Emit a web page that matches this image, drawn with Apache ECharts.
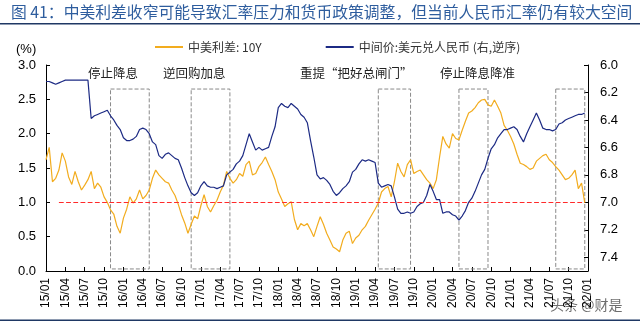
<!DOCTYPE html>
<html><head><meta charset="utf-8">
<script src="https://cdn.jsdelivr.net/npm/echarts@6/dist/echarts.min.js"></script>
<style>html,body{margin:0;padding:0;background:#fff}#c{width:640px;height:323px}</style>
</head><body><div id="c"></div>
<script>
// Half-month samples from 2015/01 (first half) to 2021/12 (second half)
var spread10Y = [
1.62,1.80,1.30,1.35,1.47,1.72,1.60,1.37,1.26,1.45,1.30,1.18,1.25,1.33,1.45,1.20,1.28,1.22,1.08,1.00,
0.89,0.83,0.65,0.55,0.77,0.90,1.08,0.99,1.05,1.18,1.05,1.10,1.18,1.35,1.47,1.40,1.35,1.30,1.28,1.18,
1.10,0.97,0.82,0.70,0.55,0.68,0.80,0.76,0.95,1.11,0.94,0.86,0.95,1.03,1.15,1.25,1.45,1.35,1.28,1.33,
1.42,1.38,1.55,1.60,1.40,1.42,1.52,1.58,1.66,1.55,1.45,1.33,1.15,1.05,0.94,0.98,1.01,0.75,0.60,0.69,
0.66,0.69,0.60,0.50,0.65,0.79,0.68,0.55,0.45,0.35,0.32,0.28,0.45,0.55,0.58,0.40,0.48,0.52,0.60,0.65,
0.74,0.82,0.90,0.99,1.15,1.20,1.23,1.08,1.30,1.57,1.45,1.37,1.55,1.62,1.42,1.45,1.47,1.40,1.33,1.28,
1.20,1.33,1.66,1.96,1.85,1.79,2.00,1.93,1.91,2.05,2.18,2.30,2.33,2.38,2.45,2.49,2.50,2.42,2.40,2.49,
2.40,2.30,2.12,2.05,1.96,1.85,1.70,1.57,1.55,1.52,1.48,1.50,1.60,1.64,1.68,1.70,1.62,1.58,1.52,1.47,
1.40,1.33,1.35,1.40,1.47,1.20,1.28,0.99];
var usdcnyMid = [
6.12,6.12,6.13,6.14,6.13,6.12,6.11,6.11,6.11,6.11,6.11,6.11,6.11,6.11,6.39,6.37,6.36,6.35,6.34,6.33,
6.37,6.40,6.44,6.47,6.53,6.55,6.55,6.54,6.52,6.47,6.46,6.47,6.50,6.56,6.58,6.66,6.68,6.65,6.64,6.66,
6.68,6.69,6.75,6.82,6.88,6.93,6.95,6.93,6.88,6.85,6.88,6.89,6.89,6.90,6.89,6.88,6.80,6.78,6.76,6.72,
6.70,6.66,6.58,6.50,6.56,6.62,6.60,6.62,6.61,6.60,6.52,6.45,6.31,6.28,6.30,6.31,6.28,6.30,6.32,6.36,
6.38,6.42,6.55,6.67,6.80,6.83,6.82,6.84,6.87,6.92,6.95,6.93,6.90,6.88,6.85,6.78,6.76,6.72,6.69,6.70,
6.69,6.70,6.71,6.86,6.89,6.88,6.87,6.88,6.96,7.05,7.08,7.08,7.07,7.08,7.07,7.03,7.01,7.00,6.95,6.87,
6.92,6.98,6.98,7.08,7.07,7.07,7.09,7.10,7.13,7.10,7.06,7.00,6.97,6.92,6.86,6.80,6.76,6.68,6.61,6.58,
6.53,6.50,6.47,6.47,6.46,6.45,6.47,6.52,6.56,6.50,6.45,6.40,6.35,6.40,6.46,6.47,6.47,6.48,6.47,6.43,
6.42,6.40,6.39,6.38,6.37,6.36,6.36,6.35];
var xTickLabels = ['15/01','15/04','15/07','15/10','16/01','16/04','16/07','16/10','17/01','17/04',
'17/07','17/10','18/01','18/04','18/07','18/10','19/01','19/04','19/07','19/10','20/01','20/04',
'20/07','20/10','21/01','21/04','21/07','21/10','22/01'];
var leftTicks = [0.0,0.5,1.0,1.5,2.0,2.5,3.0];
var rightTicks = [6.0,6.2,6.4,6.6,6.8,7.0,7.2,7.4];
// policy windows: [start index, end index] in half-month steps
var policyBoxes = [[20,32],[45,57],[103,113],[128,137],[158,167]];
var policyNotes = ['停止降息','逆回购加息','重提“把好总闸门”','停止降息降准'];

var categories = [];
for (var y = 15; y <= 21; y++) {
  for (var m = 1; m <= 12; m++) {
    var mm = (m < 10 ? '0' : '') + m;
    categories.push(y + '/' + mm);
    categories.push(y + '/' + mm + ' ');
  }
}
categories.push('22/01');

var isTick = function (idx) { return xTickLabels.indexOf(categories[idx]) >= 0; };

var chart = echarts.init(document.getElementById('c'), null, {renderer: 'canvas'});
var FONT = 'Liberation Sans, Arial, sans-serif';
var CJK = '"Noto Sans CJK SC", sans-serif';

chart.setOption({
  animation: false,
  backgroundColor: '#fff',
  grid: {left: 46, right: 52, top: 65, bottom: 52, containLabel: false},
  legend: {
    top: 36, left: 150, itemGap: 64, itemWidth: 28, itemHeight: 2, icon: 'rect',
    textStyle: {fontFamily: CJK, fontSize: 12, color: '#333'},
    data: ['中美利差: 10Y', '中间价:美元兑人民币 (右,逆序)']
  },
  xAxis: {
    type: 'category', data: categories, boundaryGap: false,
    axisLine: {lineStyle: {color: '#000', width: 1}},
    axisTick: {inside: true, length: 4, interval: function (i) { return isTick(i); }, lineStyle: {color: '#000'}},
    axisLabel: {
      interval: function (i) { return isTick(i); }, rotate: 90, margin: 7,
      fontFamily: FONT, fontSize: 12, color: '#000',
      formatter: function (v) { return v.trim(); }
    },
    splitLine: {show: false}
  },
  yAxis: [{
    type: 'value', min: leftTicks[0], max: leftTicks[leftTicks.length - 1], interval: 0.5,
    axisLine: {show: true, lineStyle: {color: '#000'}},
    axisTick: {show: true, inside: true, length: 4, lineStyle: {color: '#000'}},
    axisLabel: {fontFamily: FONT, fontSize: 13, color: '#000', margin: 10,
      formatter: function (v) { return v.toFixed(1); }},
    splitLine: {show: false}
  }, {
    type: 'value', min: rightTicks[0], max: 7.5, interval: 0.2, inverse: true, position: 'right',
    axisLine: {show: true, lineStyle: {color: '#000'}},
    axisTick: {show: true, inside: true, length: 4, lineStyle: {color: '#000'}},
    axisLabel: {fontFamily: FONT, fontSize: 13, color: '#000', margin: 12, showMaxLabel: false,
      formatter: function (v) { return rightTicks.indexOf(Math.round(v * 10) / 10) >= 0 ? v.toFixed(1) : ''; }},
    splitLine: {show: false}
  }],
  series: [{
    name: '中美利差: 10Y', type: 'line', data: spread10Y, yAxisIndex: 0,
    showSymbol: false, symbol: 'none', lineStyle: {color: '#F2AC1E', width: 1.2}, itemStyle: {color: '#F2AC1E'},
    markLine: {
      silent: true, symbol: 'none', label: {show: false},
      lineStyle: {color: '#FF2A2A', type: 'dashed', width: 1.2},
      data: [[{coord: [categories[4], 1.0]}, {coord: [categories[167], 1.0]}]]
    },
    markArea: {
      silent: true,
      itemStyle: {color: 'rgba(0,0,0,0)', borderColor: '#8a8a8a', borderWidth: 1, borderType: 'dashed'},
      data: policyBoxes.map(function (b) {
        return [{xAxis: categories[b[0]], yAxis: 2.65}, {xAxis: categories[b[1]], yAxis: 0.03}];
      })
    }
  }, {
    name: '中间价:美元兑人民币 (右,逆序)', type: 'line', data: usdcnyMid, yAxisIndex: 1,
    showSymbol: false, symbol: 'none', lineStyle: {color: '#1C2A84', width: 1.2}, itemStyle: {color: '#1C2A84'}
  }],
  graphic: [
    {type: 'text', left: 11, top: 4, style: {text: '图 41：中美利差收窄可能导致汇率压力和货币政策调整，但当前人民币汇率仍有较大空间',
      font: '15.8px "Noto Sans CJK SC", sans-serif', fill: '#2E5D9E'}},
    {type: 'rect', shape: {x: 0, y: 23, width: 640, height: 1.5}, style: {fill: '#1F3864'}},
    {type: 'rect', shape: {x: 0, y: 319.5, width: 640, height: 1.5}, style: {fill: '#1F3864'}},
    {type: 'text', left: 16, top: 43, style: {text: '(%)', font: '13px Liberation Sans, Arial, sans-serif', fill: '#000'}},
    {type: 'text', left: 88, top: 67, style: {text: policyNotes[0], font: '12.5px "Noto Sans CJK SC", sans-serif', fill: '#222'}},
    {type: 'text', left: 163, top: 67, style: {text: policyNotes[1], font: '12.5px "Noto Sans CJK SC", sans-serif', fill: '#222'}},
    {type: 'text', left: 300, top: 67, style: {text: policyNotes[2], font: '12.5px "Noto Sans CJK SC", sans-serif', fill: '#222'}},
    {type: 'text', left: 440, top: 67, style: {text: policyNotes[3], font: '12.5px "Noto Sans CJK SC", sans-serif', fill: '#222'}},
    {type: 'text', left: 550, top: 298, style: {text: '头条 @财是', font: '14px "Noto Sans CJK SC", sans-serif', fill: 'rgba(60,60,60,0.75)'}}
  ]
});
</script></body></html>
